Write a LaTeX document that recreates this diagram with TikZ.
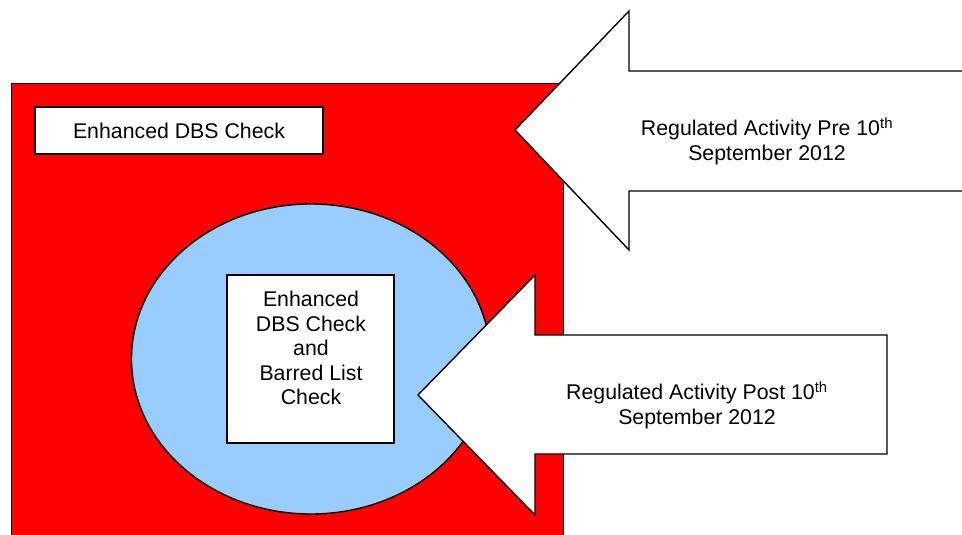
\documentclass[tikz,border=0pt]{standalone}
\usepackage{fontspec}
\setmainfont{Liberation Sans}
\usetikzlibrary{shapes.geometric}
\definecolor{areared}{HTML}{FF0000}
\definecolor{ovalblue}{HTML}{99CCFF}
\begin{document}
\begin{tikzpicture}[x=1pt,y=-1pt,line width=1.4pt,
  box/.style={draw=black,fill=white,inner sep=0pt,align=center},
  lbl/.style={font=\fontsize{21.3}{24.5}\selectfont,align=center,inner sep=0pt},
  bigarrow/.style={draw=black,fill=white,line join=miter}]
\useasboundingbox (0,0) rectangle (962,535);
\clip (0,0) rectangle (962,535);
\node[draw=black,fill=areared,anchor=north west,minimum width=552pt,minimum height=470pt,inner sep=0pt] (area) at (11,83) {};
\node[box,lbl,minimum width=288pt,minimum height=47pt] (pre) at (179,130.5) {Enhanced DBS Check};
\node[draw=black,fill=ovalblue,ellipse,minimum width=359pt,minimum height=310pt,inner sep=0pt] (oval) at (311,359) {};
\node[box,minimum width=167pt,minimum height=168pt] (inner) at (310.5,359) {};
\node[lbl] (innertxt) at (311,348) {Enhanced\\DBS Check\\and\\Barred List\\Check};
\coordinate (atip) at (515,130);
\draw[bigarrow] (atip) -- (629,11) -- (629,71) -- (975,71) -- (975,191) -- (629,191) -- (629,250) -- cycle;
\node[lbl] (pretxt) at (767,141) {Regulated Activity Pre 10\textsuperscript{th}\\September 2012};
\coordinate (btip) at (418,395);
\draw[bigarrow] (btip) -- (535,275) -- (535,335) -- (887,335) -- (887,454) -- (535,454) -- (535,515) -- cycle;
\node[lbl] (posttxt) at (697,405) {Regulated Activity Post 10\textsuperscript{th}\\September 2012};
\end{tikzpicture}
\end{document}
